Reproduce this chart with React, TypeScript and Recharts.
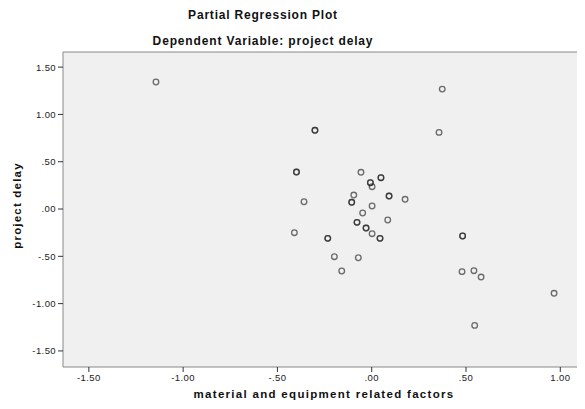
import React from 'react';
import { ScatterChart, Scatter, XAxis, YAxis, CartesianGrid, ReferenceLine } from 'recharts';

// partial residuals; repeated pairs are cases that sit on top of each other
const residX = [
  -1.144, -0.301, -0.301, -0.399, -0.399, -0.359, 0.374, 0.357, 0.177, 0.482, 0.482,
  0.479, 0.542, 0.58, 0.967, 0.546, -0.057, 0.049, 0.049, -0.007, -0.007, 0.002,
  -0.095, 0.092, 0.092, -0.106, -0.106, 0.002, -0.048, -0.078, -0.078, 0.085,
  -0.03, -0.03, 0.002, 0.044, 0.044, -0.233, -0.233, -0.198, -0.071, -0.159, -0.41,
];
const residY = [
  1.343, 0.832, 0.832, 0.391, 0.391, 0.077, 1.268, 0.81, 0.103, -0.285, -0.285,
  -0.662, -0.652, -0.719, -0.891, -1.23, 0.388, 0.331, 0.331, 0.278, 0.278, 0.236,
  0.148, 0.137, 0.137, 0.071, 0.071, 0.032, -0.042, -0.141, -0.141, -0.116,
  -0.201, -0.201, -0.261, -0.31, -0.31, -0.31, -0.31, -0.504, -0.515, -0.655, -0.25,
];
const xTicks = [-1.5, -1, -0.5, 0, 0.5, 1];
const yTicks = [-1.5, -1, -0.5, 0, 0.5, 1, 1.5];

const points = residX.map((x, i) => ({ x, y: residY[i] }));

const fmt = (v: number) => (v < 0 ? '-' : '') + Math.abs(v).toFixed(2).replace(/^0/, '');

const font = '"Liberation Sans", Arial, sans-serif';
const tickStyle = { fontSize: 9.5, fill: '#222', fontFamily: font, letterSpacing: 0.4 };

const Ring = (props: any) => (
  <circle cx={props.cx} cy={props.cy} r={2.8} fill="none" stroke="#222" strokeOpacity={0.65} strokeWidth={1.3} />
);

export default function App() {
  return (
    <div style={{ position: 'relative', width: 585, height: 409, margin: -8, background: '#fff', fontFamily: font }}>
      <div style={{ position: 'absolute', left: 0, width: 526, top: 8, textAlign: 'center', fontSize: 12, fontWeight: 'bold', letterSpacing: 0.8, color: '#111' }}>
        Partial Regression Plot
      </div>
      <div style={{ position: 'absolute', left: 0, width: 526, top: 34, textAlign: 'center', fontSize: 12, fontWeight: 'bold', letterSpacing: 0.85, color: '#111' }}>
        Dependent Variable: project delay
      </div>
      <ScatterChart width={585} height={409} margin={{ top: 52, right: 0, bottom: 0, left: 0 }}>
        <CartesianGrid horizontal={false} vertical={false} fill="#f0f0f0" />
        <XAxis
          type="number"
          dataKey="x"
          domain={[-1.637, 1.131]}
          ticks={xTicks}
          tickFormatter={fmt}
          allowDataOverflow
          height={42}
          tickSize={5}
          tick={tickStyle}
          axisLine={{ stroke: '#888' }}
          tickLine={{ stroke: '#333' }}
          label={{ value: 'material and equipment related factors', position: 'insideBottom', offset: 11, style: { fontSize: 11.5, fontWeight: 'bold', letterSpacing: 1.3, fill: '#111', fontFamily: font } }}
        />
        <YAxis
          type="number"
          dataKey="y"
          domain={[-1.67, 1.66]}
          ticks={yTicks}
          tickFormatter={fmt}
          allowDataOverflow
          width={63}
          tickSize={5}
          tick={tickStyle}
          axisLine={{ stroke: '#888' }}
          tickLine={{ stroke: '#333' }}
          label={{ value: 'project delay', angle: -90, position: 'insideLeft', offset: 17, dy: -4, textAnchor: 'middle', style: { textAnchor: 'middle', fontSize: 11.5, fontWeight: 'bold', letterSpacing: 1.2, fill: '#111', fontFamily: font } }}
        />
        <ReferenceLine y={1.66} stroke="#888" ifOverflow="visible" />
        <Scatter data={points} shape={Ring} isAnimationActive={false} />
      </ScatterChart>
    </div>
  );
}
